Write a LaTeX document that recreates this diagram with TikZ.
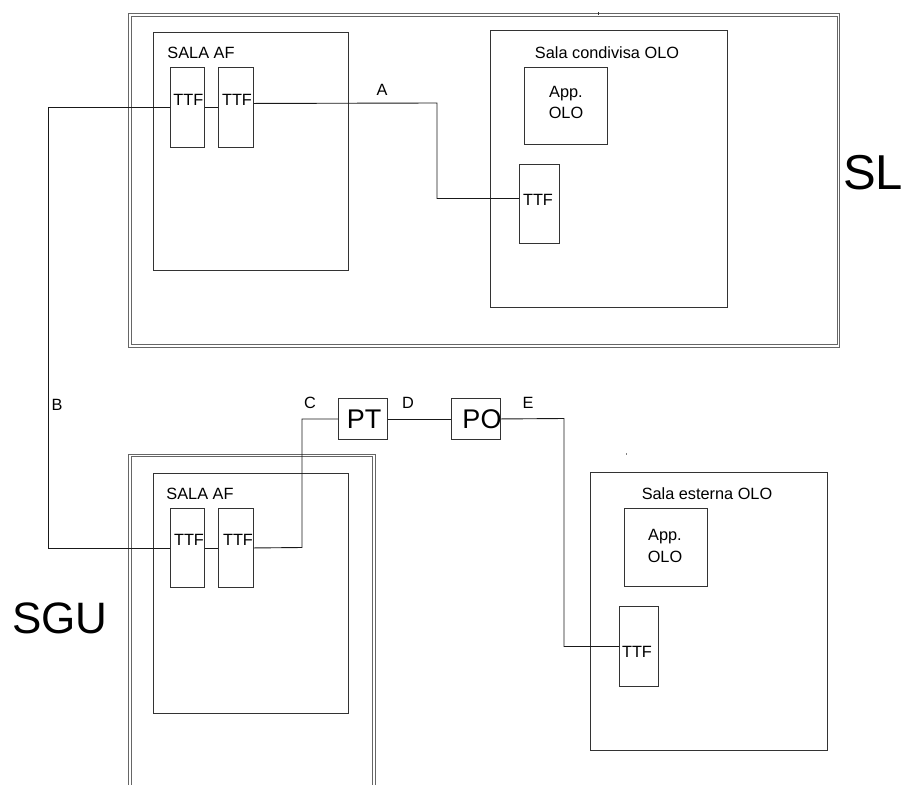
\documentclass[tikz,border=0pt]{standalone}
\usepackage{fontspec}
\setmainfont{Liberation Sans}
\tikzset{
  wire/.style={draw=black!90, line width=0.9pt},
  box/.style={draw=black!80, line width=0.9pt, rectangle, inner sep=0pt, anchor=north west},
  frame/.style={draw=black!60, line width=0.9pt},
  lbl/.style={font=\fontsize{16.3}{20}\selectfont, inner sep=0pt, text height=11.7pt, text depth=0pt},
  biglbl/.style={font=\fontsize{27}{30}\selectfont, inner sep=0pt, text height=19.5pt, text depth=0pt},
  hugelbl/.style={font=\fontsize{44}{48}\selectfont, inner sep=0pt, text height=31.5pt, text depth=0pt},
}
\begin{document}
\begin{tikzpicture}[x=1pt,y=-1pt]
\useasboundingbox (0,0) rectangle (911,785);

% SL double frame
\node[box, draw=black!60, minimum width=711pt, minimum height=333.7pt] (slout) at (128.3,13.3) {};
\node[box, draw=black!60, minimum width=705.7pt, minimum height=328.3pt] (slin) at (131,16) {};
% SGU double frame (open at the bottom edge of the page)
\draw[frame] (128.3,790) |- (375,454.3) -- (375,790);
\draw[frame] (131,790) |- (372.3,456.7) -- (372.3,790);
% tiny marks
\fill[black!80] (597.6,12) rectangle (598.8,15);
\fill[black!50] (626.2,453.2) rectangle (627.2,455.2);

% upper SALA AF
\node[box, minimum width=195pt, minimum height=238pt] (afa) at (153,32) {};
\node[box, minimum width=34pt, minimum height=80pt] (t1a) at (170,67) {};
\node[box, minimum width=35pt, minimum height=80pt] (t2a) at (218,67) {};
% Sala condivisa OLO
\node[box, minimum width=237pt, minimum height=277pt] (cond) at (490,30) {};
\node[box, minimum width=83pt, minimum height=77pt] (appc) at (524,67) {};
\node[box, minimum width=40pt, minimum height=79pt] (ttfc) at (519,164) {};
% lower SALA AF
\node[box, minimum width=195pt, minimum height=240pt] (afb) at (153,473) {};
\node[box, minimum width=34pt, minimum height=79pt] (t1b) at (170,508) {};
\node[box, minimum width=35pt, minimum height=79pt] (t2b) at (218,508) {};
% PT, PO
\node[box, minimum width=49pt, minimum height=41pt] (pt) at (338,398) {};
\node[box, minimum width=49pt, minimum height=41pt] (po) at (451,398) {};
% Sala esterna OLO
\node[box, minimum width=237pt, minimum height=278pt] (est) at (590,472) {};
\node[box, minimum width=83pt, minimum height=78pt] (appe) at (624,508) {};
\node[box, minimum width=39pt, minimum height=80pt] (ttfe) at (619,606) {};

% texts
\node[lbl] (tafa) at (201,52.5) {SALA AF};
\node[lbl] (tafb) at (200,494) {SALA AF};
\node[lbl] (tt1a) at (188.3,100) {TTF};
\node[lbl] (tt2a) at (237,100) {TTF};
\node[lbl] (tt1b) at (189,540) {TTF};
\node[lbl] (tt2b) at (238,540) {TTF};
\node[lbl] (tcond) at (607,52.3) {Sala condivisa OLO};
\node[lbl] (tappc1) at (566,91.7) {App.};
\node[lbl] (tappc2) at (566,112.7) {OLO};
\node[lbl] (tttfc) at (538,200) {TTF};
\node[lbl] (test) at (707,494) {Sala esterna OLO};
\node[lbl] (tappe1) at (665,535) {App.};
\node[lbl] (tappe2) at (665,556.7) {OLO};
\node[lbl] (tttfe) at (637,651.7) {TTF};
\node[biglbl] (tpt) at (364,418.3) {PT};
\node[biglbl] (tpo) at (482,418.3) {PO};
\node[hugelbl, font=\fontsize{49}{52}\selectfont, text height=35pt] (tsl) at (873,172) {SL};
\node[hugelbl] (tsgu) at (60,618) {SGU};
\node[lbl] (la) at (382,90) {A};
\node[lbl] (lb) at (57,405) {B};
\node[lbl] (lc) at (310,403) {C};
\node[lbl] (ld) at (408,403) {D};
\node[lbl] (le) at (528,403) {E};

% connectors
\draw[wire] (t1a.west) -- ++(-122,0) |- (t1b.west);
\draw[wire] (t1a.east) -- (t2a.west);
\draw[wire] ([yshift=4pt]t2a.east) -- (437,103) |- ([yshift=5.5pt]ttfc.west);
\draw[wire] (t1b.east) -- (t2b.west);
\draw[wire] (t2b.east) -- (302,547.5) |- (pt.west);
\draw[wire] (pt.east) -- (po.west);
\draw[wire] (po.east) -- (564,418.5) |- (ttfe.west);
\end{tikzpicture}
\end{document}
